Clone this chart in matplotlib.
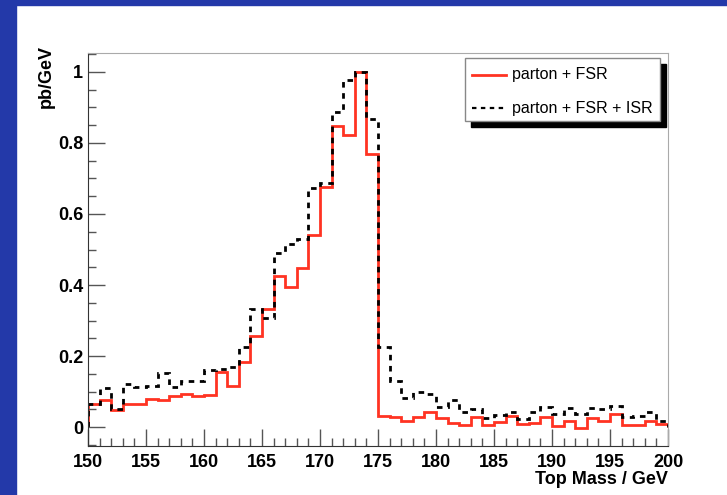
import matplotlib
matplotlib.use("Agg")
import matplotlib.pyplot as plt
import numpy as np
from matplotlib.lines import Line2D
from matplotlib.patches import Rectangle
from matplotlib.ticker import MultipleLocator

# 1 GeV bins from 150 to 200
BIN_EDGES = np.arange(150, 201, 1)

PARTON_FSR = [
    0.065, 0.075, 0.048, 0.065, 0.065, 0.078, 0.075, 0.086, 0.094, 0.086,
    0.090, 0.156, 0.116, 0.184, 0.256, 0.333, 0.426, 0.393, 0.448, 0.541,
    0.677, 0.848, 0.822, 1.000, 0.768, 0.032, 0.027, 0.018, 0.029, 0.043,
    0.024, 0.010, 0.006, 0.029, 0.006, 0.015, 0.032, 0.008, 0.010, 0.029,
    0.003, 0.018, -0.003, 0.024, 0.018, 0.036, 0.006, 0.006, 0.018, 0.008,
]
PARTON_FSR_ISR = [
    0.065, 0.109, 0.050, 0.120, 0.114, 0.115, 0.152, 0.112, 0.130, 0.130,
    0.160, 0.164, 0.168, 0.224, 0.333, 0.306, 0.491, 0.515, 0.530, 0.674,
    0.686, 0.887, 0.977, 1.000, 0.867, 0.224, 0.130, 0.081, 0.100, 0.093,
    0.057, 0.076, 0.043, 0.050, 0.024, 0.034, 0.043, 0.022, 0.043, 0.057,
    0.038, 0.053, 0.038, 0.053, 0.050, 0.059, 0.027, 0.031, 0.043, 0.018,
]
LABELS = ["parton + FSR", "parton + FSR + ISR"]

BLUE = "#2339a9"
RED = "#ff3322"
DASH = (0, (2.0, 2.0))

plt.rcParams["font.family"] = ["Liberation Sans", "DejaVu Sans"]

W, H = 727, 495
fig = plt.figure(figsize=(W / 100, H / 100), dpi=100)


def fx(px):
    return px / W


def fy(py):
    return 1 - py / H


fig.patches.append(Rectangle((0, fy(5)), 1, 5 / H, transform=fig.transFigure,
                             color=BLUE, zorder=0))
fig.patches.append(Rectangle((0, 0), fx(16), 1, transform=fig.transFigure,
                             color=BLUE, zorder=0))

ax = fig.add_axes([fx(88), fy(446), 580 / W, 393 / H])
ax.stairs(PARTON_FSR, BIN_EDGES, color=RED, lw=2)
ax.stairs(PARTON_FSR_ISR, BIN_EDGES, color="black", lw=2, ls=DASH)

ax.set_xlim(150, 200)
ax.set_ylim(-0.0535, 1.0535)
ax.xaxis.set_major_locator(MultipleLocator(5))
ax.xaxis.set_minor_locator(MultipleLocator(1))
ax.yaxis.set_minor_locator(MultipleLocator(0.05))
ax.set_yticks([0, 0.2, 0.4, 0.6, 0.8, 1.0])
ax.set_yticklabels(["0", "0.2", "0.4", "0.6", "0.8", "1"])
ax.tick_params(which="both", direction="in", top=False, right=False,
               labelsize=13, color="#555555")
ax.tick_params(which="major", length=12, width=1)
ax.tick_params(which="minor", length=6, width=1)
ax.tick_params(axis="x", pad=6)
for lab in ax.get_xticklabels() + ax.get_yticklabels():
    lab.set_fontweight("bold")

for side in ["top", "right"]:
    ax.spines[side].set_color("#aaaaaa")
for side in ["left", "bottom"]:
    ax.spines[side].set_color("#333333")

fig.text(fx(668), fy(480), "Top Mass / GeV", ha="right", va="center",
         fontsize=13, fontweight="bold")
fig.text(fx(46), fy(77), "pb/GeV", ha="center", va="center",
         rotation=90, fontsize=13, fontweight="bold")

# legend box with ROOT-style drop shadow
lx0, lx1, ly0, ly1 = 465, 660, 58, 121
fig.patches.append(Rectangle((fx(lx0 + 6), fy(ly1 + 6)), (lx1 - lx0) / W, (ly1 - ly0) / H,
                             transform=fig.transFigure, color="black", zorder=3))
fig.patches.append(Rectangle((fx(lx0), fy(ly1)), (lx1 - lx0) / W, (ly1 - ly0) / H,
                             transform=fig.transFigure, facecolor="white",
                             edgecolor="#888888", lw=1, zorder=4))
styles = [dict(color=RED, lw=2), dict(color="black", lw=1.6, ls=DASH)]
for row_y, label, style in zip([75, 108], LABELS, styles):
    fig.lines.append(Line2D([fx(472), fx(506)], [fy(row_y), fy(row_y)],
                            transform=fig.transFigure, zorder=5, **style))
    fig.text(fx(512), fy(row_y), label, ha="left", va="center", fontsize=11.5,
             zorder=6)

fig.savefig("out.png", dpi=100)
